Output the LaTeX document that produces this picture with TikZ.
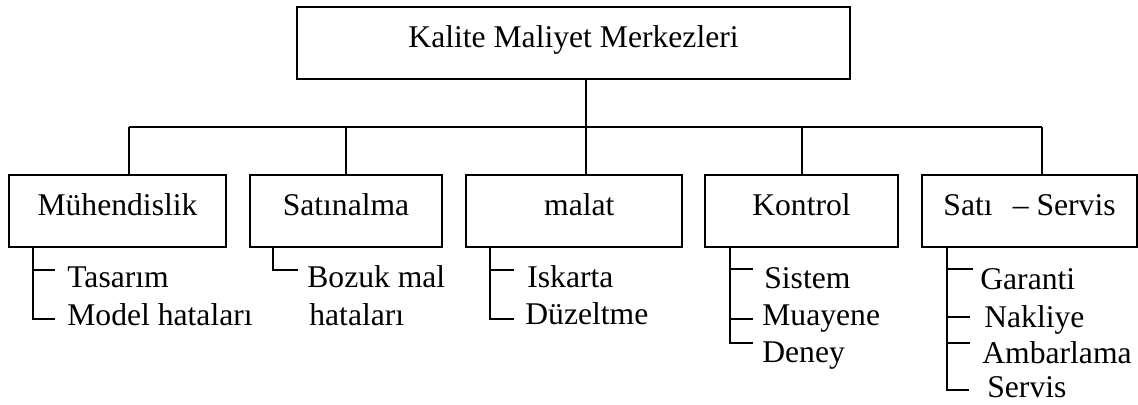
\documentclass[tikz,border=0pt]{standalone}
\usepackage{fontspec}
\setmainfont{Liberation Serif}
\begin{document}
\begin{tikzpicture}[x=0.02cm,y=-0.02cm,
  every node/.style={font=\fontsize{18}{21.6}\selectfont},
  box/.style={draw,line width=0.8pt,rectangle,inner sep=0pt,
    minimum height=1.44cm,text height=0.4cm,text depth=0.2cm},
  item/.style={anchor=base west,inner sep=0pt},
  wire/.style={line width=0.8pt}]
\useasboundingbox (0,0) rectangle (1138,405);

% head box
\node[box,minimum width=11.06cm] (top) at (573.5,43) {Kalite Maliyet Merkezleri};

% second level boxes
\node[box,minimum width=4.34cm] (muh) at (117.5,211) {Mühendislik};
\node[box,minimum width=3.84cm] (sat) at (346,211) {Satınalma};
\node[box,minimum width=4.32cm] (mal) at (574,211) {\hspace{0.333em}malat};
\node[box,minimum width=3.86cm] (kon) at (801.5,211) {Kontrol};
\node[box,minimum width=4.30cm] (ss) at (1029.5,211) {Satı\hspace{0.389em} – Servis};

% bus
\coordinate (b1) at (129,127);
\coordinate (b2) at (346,127);
\coordinate (b3) at (586,127);
\coordinate (b4) at (802,127);
\coordinate (b5) at (1042,127);
\draw[wire] (b1) -- (b5);
\draw[wire] (b3 |- top.south) -- (b3);
\foreach \b/\n in {b1/muh,b2/sat,b3/mal,b4/kon,b5/ss}
  \draw[wire] (\b) -- (\b |- \n.north);

% Mühendislik items
\node[item] (m1) at (67,287) {Tasarım};
\node[item] (m2) at (67,325) {Model hataları};
\coordinate (ms) at (33,319);
\draw[wire] (ms |- muh.south) -- (ms) -- (55,319);
\draw[wire] (33,270) -- (55,270);

% Satınalma items
\node[item] (s1) at (307,287) {Bozuk mal};
\node[item] (s2) at (309,325) {hataları};
\coordinate (ssp) at (273,270);
\draw[wire] (ssp |- sat.south) -- (ssp) -- (298,270);

% malat items
\node[item] (i1) at (527,287) {Iskarta};
\node[item] (i2) at (525,324) {Düzeltme};
\coordinate (isp) at (490,319);
\draw[wire] (isp |- mal.south) -- (isp) -- (514,319);
\draw[wire] (490,270) -- (514,270);

% Kontrol items
\node[item] (k1) at (764,288) {Sistem};
\node[item] (k2) at (762,325) {Muayene};
\node[item] (k3) at (762,362) {Deney};
\coordinate (ksp) at (730,343);
\draw[wire] (ksp |- kon.south) -- (ksp) -- (753,343);
\draw[wire] (730,269) -- (753,269);
\draw[wire] (730,319) -- (753,319);

% Satış - Servis items
\node[item] (g1) at (980,289) {Garanti};
\node[item] (g2) at (984,327) {Nakliye};
\node[item] (g3) at (982,363) {Ambarlama};
\node[item] (g4) at (987,397) {Servis};
\coordinate (gsp) at (947,390);
\draw[wire] (gsp |- ss.south) -- (gsp) -- (969,390);
\draw[wire] (947,269) -- (973,269);
\draw[wire] (947,317) -- (970,317);
\draw[wire] (947,343) -- (970,343);
\end{tikzpicture}
\end{document}
